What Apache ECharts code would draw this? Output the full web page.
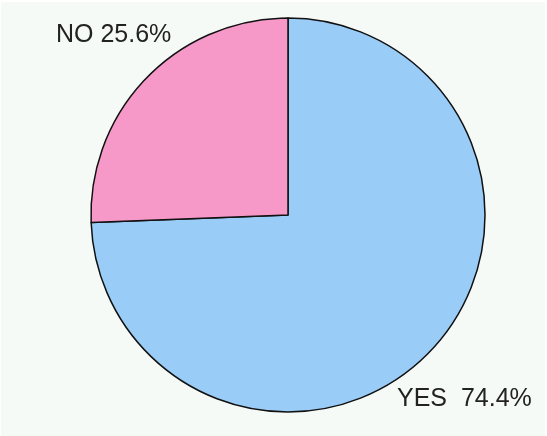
<!DOCTYPE html>
<html><head><meta charset="utf-8">
<script src="https://cdn.jsdelivr.net/npm/echarts@6/dist/echarts.min.js"></script>
<style>html,body{margin:0;padding:0;background:#fff}#c{width:547px;height:436px}</style>
</head><body><div id="c"></div>
<script>
const categories = ['YES', 'NO'];
const values = [74.4, 25.6];
const colors = ['#99CCF7', '#F799C8'];
const labelTexts = ['YES  74.4%', 'NO 25.6%'];
const labelSpots = [{x: 397, y: 399}, {x: 56, y: 35}];

const chart = echarts.init(document.getElementById('c'), null, {renderer: 'canvas'});
chart.setOption({
  backgroundColor: '#fff',
  animation: false,
  graphic: [{type: 'rect', shape: {x: 1, y: 2, width: 544, height: 434}, style: {fill: '#F6FAF7', stroke: 'none'}, z: -10}],
  series: [{
    type: 'pie',
    center: [288, 215],
    radius: 197,
    startAngle: 90,
    clockwise: true,
    data: categories.map((c, i) => ({name: c, value: values[i], itemStyle: {color: colors[i]}})),
    itemStyle: {borderColor: '#111', borderWidth: 1.5},
    label: {
      show: true,
      formatter: p => labelTexts[p.dataIndex],
      fontFamily: 'Liberation Sans, Arial, sans-serif',
      fontSize: 25,
      color: '#222',
      overflow: 'none',
      width: 200
    },
    labelLine: {show: false},
    labelLayout: p => ({x: labelSpots[p.dataIndex].x, y: labelSpots[p.dataIndex].y, align: 'left', verticalAlign: 'middle', width: 200}),
    emphasis: {disabled: true}
  }]
});
</script></body></html>
